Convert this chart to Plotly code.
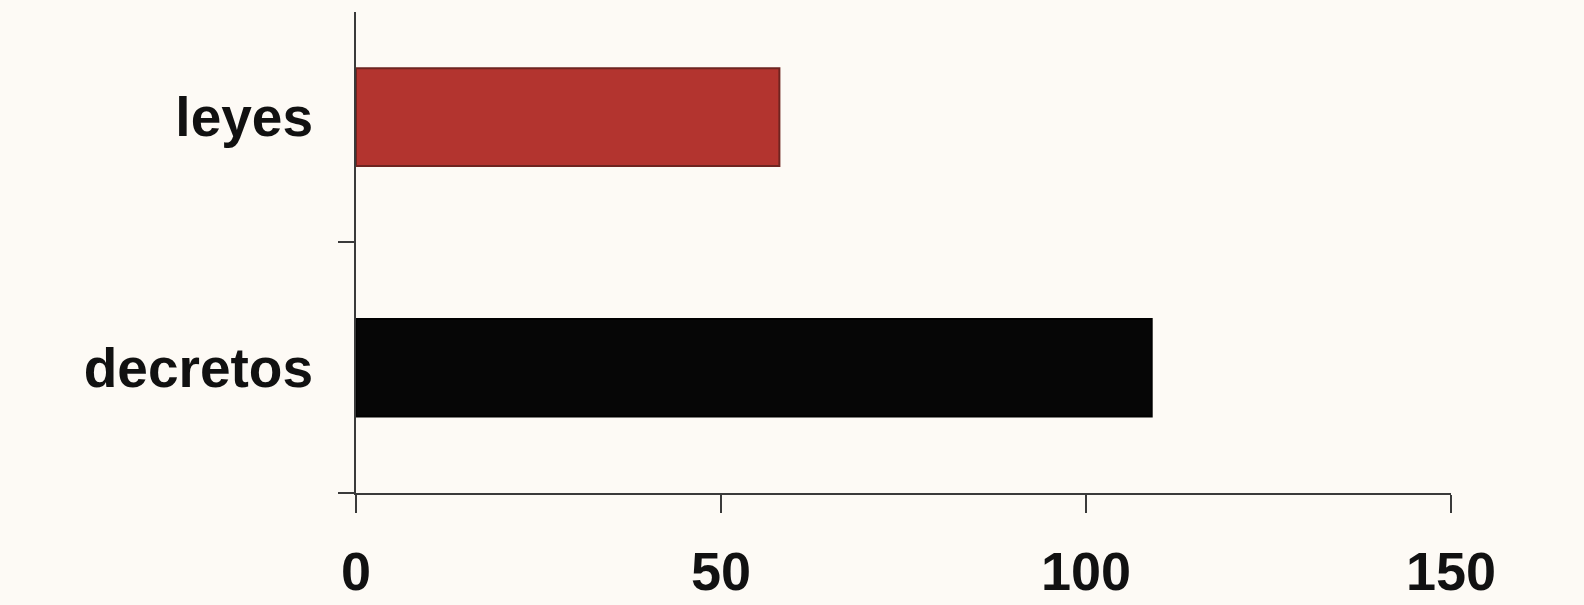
import plotly.graph_objects as go

categories = ["decretos", "leyes"]
values = [109, 58]
bar_colors = ["#060606", "#B3342F"]
line_colors = ["#000000", "#6E2420"]
x_ticks = [0, 50, 100, 150]

fig = go.Figure()
fig.add_trace(go.Bar(
    y=categories,
    x=values,
    orientation="h",
    width=0.39,
    marker=dict(color=bar_colors, line=dict(color=line_colors, width=2)),
    showlegend=False,
))

font_family = "Liberation Sans, Arial, sans-serif"

fig.update_layout(
    width=1584,
    height=605,
    margin=dict(l=356, r=133, t=12, b=112, pad=0),
    paper_bgcolor="#FDFAF5",
    plot_bgcolor="#FDFAF5",
    xaxis=dict(
        range=[0, 150],
        tickvals=x_ticks,
        ticktext=[str(v) for v in x_ticks],
        showgrid=False,
        zeroline=False,
        showline=True,
        automargin=False,
        linecolor="#3a3a3a",
        linewidth=2,
        ticks="outside",
        ticklen=18,
        tickwidth=2,
        tickcolor="#3a3a3a",
        ticklabelstandoff=12,
        tickfont=dict(family=font_family, size=54, color="#111111", weight="bold"),
    ),
    yaxis=dict(
        type="category",
        categoryorder="array",
        categoryarray=categories,
        range=[-0.5, 1.42],
        showgrid=False,
        zeroline=False,
        showline=True,
        automargin=False,
        linecolor="#3a3a3a",
        linewidth=2,
        ticks="outside",
        tickson="boundaries",
        ticklen=16,
        tickwidth=2,
        tickcolor="#3a3a3a",
        ticklabelstandoff=30,
        tickfont=dict(family=font_family, size=55, color="#111111", weight="bold"),
    ),
    bargap=0.61,
)

fig.write_html(
    "out.html",
    config={"displayModeBar": False},
    post_script="document.body.style.margin='0';document.body.style.overflow='hidden';document.body.style.background='#FDFAF5';",
)
